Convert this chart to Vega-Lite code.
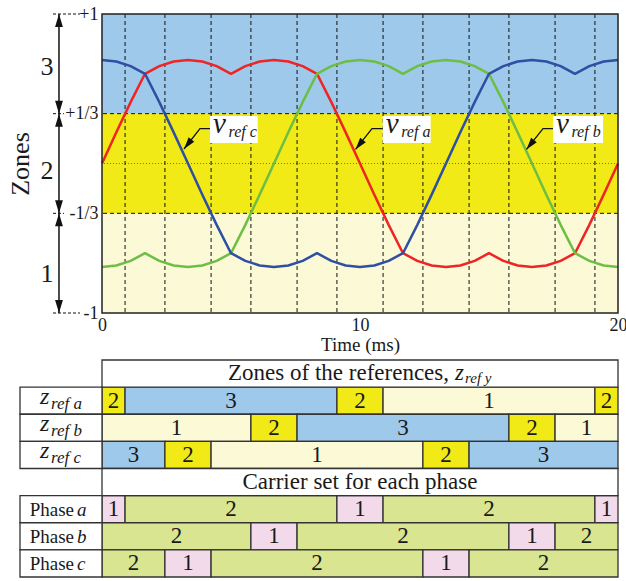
{
"$schema":"https://vega.github.io/schema/vega-lite/v6.json",
"background":"white",
"padding":{"left":7,"top":5,"right":0,"bottom":0},
"bounds":"flush",
"spacing":47,
"resolve":{"scale":{"fill":"independent","stroke":"independent","color":"independent"}},
"config":{"font":"Liberation Serif","view":{"stroke":null},"text":{"color":"#1a1a1a","font":"Liberation Serif"},"axis":{"labelFont":"Liberation Serif","titleFont":"Liberation Serif"}},
"datasets":{
"curves":[
{"t":0,"a":0,"b":-0.6928,"c":0.6928},
{"t":0.5556,"a":0.2084,"b":-0.6823,"c":0.6823},
{"t":1.1111,"a":0.4104,"b":-0.651,"c":0.651},
{"t":1.6667,"a":0.6,"b":-0.6,"c":0.6},
{"t":2.2222,"a":0.651,"b":-0.651,"c":0.4104},
{"t":2.7778,"a":0.6823,"b":-0.6823,"c":0.2084},
{"t":3.3333,"a":0.6928,"b":-0.6928,"c":0},
{"t":3.8889,"a":0.6823,"b":-0.6823,"c":-0.2084},
{"t":4.4444,"a":0.651,"b":-0.651,"c":-0.4104},
{"t":5,"a":0.6,"b":-0.6,"c":-0.6},
{"t":5.5556,"a":0.651,"b":-0.4104,"c":-0.651},
{"t":6.1111,"a":0.6823,"b":-0.2084,"c":-0.6823},
{"t":6.6667,"a":0.6928,"b":0,"c":-0.6928},
{"t":7.2222,"a":0.6823,"b":0.2084,"c":-0.6823},
{"t":7.7778,"a":0.651,"b":0.4104,"c":-0.651},
{"t":8.3333,"a":0.6,"b":0.6,"c":-0.6},
{"t":8.8889,"a":0.4104,"b":0.651,"c":-0.651},
{"t":9.4444,"a":0.2084,"b":0.6823,"c":-0.6823},
{"t":10,"a":0,"b":0.6928,"c":-0.6928},
{"t":10.5556,"a":-0.2084,"b":0.6823,"c":-0.6823},
{"t":11.1111,"a":-0.4104,"b":0.651,"c":-0.651},
{"t":11.6667,"a":-0.6,"b":0.6,"c":-0.6},
{"t":12.2222,"a":-0.651,"b":0.651,"c":-0.4104},
{"t":12.7778,"a":-0.6823,"b":0.6823,"c":-0.2084},
{"t":13.3333,"a":-0.6928,"b":0.6928,"c":0},
{"t":13.8889,"a":-0.6823,"b":0.6823,"c":0.2084},
{"t":14.4444,"a":-0.651,"b":0.651,"c":0.4104},
{"t":15,"a":-0.6,"b":0.6,"c":0.6},
{"t":15.5556,"a":-0.651,"b":0.4104,"c":0.651},
{"t":16.1111,"a":-0.6823,"b":0.2084,"c":0.6823},
{"t":16.6667,"a":-0.6928,"b":0,"c":0.6928},
{"t":17.2222,"a":-0.6823,"b":-0.2084,"c":0.6823},
{"t":17.7778,"a":-0.651,"b":-0.4104,"c":0.651},
{"t":18.3333,"a":-0.6,"b":-0.6,"c":0.6},
{"t":18.8889,"a":-0.4104,"b":-0.651,"c":0.651},
{"t":19.4444,"a":-0.2084,"b":-0.6823,"c":0.6823},
{"t":20,"a":0,"b":-0.6928,"c":0.6928}
],
"cross":[{"t":0.894},{"t":2.439},{"t":4.228},{"t":5.772},{"t":7.561},{"t":9.106},{"t":10.894},{"t":12.439},{"t":14.228},{"t":15.772},{"t":17.561},{"t":19.106}],
"zones":[{"v1":-1,"v2":-0.3333,"z":"1"},{"v1":-0.3333,"v2":0.3333,"z":"2"},{"v1":0.3333,"v2":1,"z":"3"}],
"ann":[
{"ref":"c","sub":"ref c","t1":4.186,"t2":6.035,"v1":0.318,"v2":0.137},
{"ref":"a","sub":"ref a","t1":10.88,"t2":12.74,"v1":0.318,"v2":0.137},
{"ref":"b","sub":"ref b","t1":17.48,"t2":19.42,"v1":0.318,"v2":0.137}
],
"arrows":[
{"ref":"c","k":1,"t":4.186,"v":0.233},{"ref":"c","k":2,"t":3.798,"v":0.233},{"ref":"c","k":3,"t":3.178,"v":0.097},
{"ref":"a","k":1,"t":10.88,"v":0.233},{"ref":"a","k":2,"t":10.465,"v":0.233},{"ref":"a","k":3,"t":9.826,"v":0.094},
{"ref":"b","k":1,"t":17.48,"v":0.233},{"ref":"b","k":2,"t":17.093,"v":0.233},{"ref":"b","k":3,"t":16.453,"v":0.094}
],
"cells":[
{"row":"za","t1":0,"t2":0.894,"tm":0.447,"val":"2","kind":"z2"},
{"row":"za","t1":0.894,"t2":9.106,"tm":5,"val":"3","kind":"z3"},
{"row":"za","t1":9.106,"t2":10.894,"tm":10,"val":"2","kind":"z2"},
{"row":"za","t1":10.894,"t2":19.106,"tm":15,"val":"1","kind":"z1"},
{"row":"za","t1":19.106,"t2":20,"tm":19.553,"val":"2","kind":"z2"},
{"row":"zb","t1":0,"t2":5.772,"tm":2.886,"val":"1","kind":"z1"},
{"row":"zb","t1":5.772,"t2":7.561,"tm":6.667,"val":"2","kind":"z2"},
{"row":"zb","t1":7.561,"t2":15.772,"tm":11.667,"val":"3","kind":"z3"},
{"row":"zb","t1":15.772,"t2":17.561,"tm":16.667,"val":"2","kind":"z2"},
{"row":"zb","t1":17.561,"t2":20,"tm":18.78,"val":"1","kind":"z1"},
{"row":"zc","t1":0,"t2":2.439,"tm":1.22,"val":"3","kind":"z3"},
{"row":"zc","t1":2.439,"t2":4.228,"tm":3.333,"val":"2","kind":"z2"},
{"row":"zc","t1":4.228,"t2":12.439,"tm":8.333,"val":"1","kind":"z1"},
{"row":"zc","t1":12.439,"t2":14.228,"tm":13.333,"val":"2","kind":"z2"},
{"row":"zc","t1":14.228,"t2":20,"tm":17.114,"val":"3","kind":"z3"},
{"row":"pa","t1":0,"t2":0.894,"tm":0.447,"val":"1","kind":"p1"},
{"row":"pa","t1":0.894,"t2":9.106,"tm":5,"val":"2","kind":"p2"},
{"row":"pa","t1":9.106,"t2":10.894,"tm":10,"val":"1","kind":"p1"},
{"row":"pa","t1":10.894,"t2":19.106,"tm":15,"val":"2","kind":"p2"},
{"row":"pa","t1":19.106,"t2":20,"tm":19.553,"val":"1","kind":"p1"},
{"row":"pb","t1":0,"t2":5.772,"tm":2.886,"val":"2","kind":"p2"},
{"row":"pb","t1":5.772,"t2":7.561,"tm":6.667,"val":"1","kind":"p1"},
{"row":"pb","t1":7.561,"t2":15.772,"tm":11.667,"val":"2","kind":"p2"},
{"row":"pb","t1":15.772,"t2":17.561,"tm":16.667,"val":"1","kind":"p1"},
{"row":"pb","t1":17.561,"t2":20,"tm":18.78,"val":"2","kind":"p2"},
{"row":"pc","t1":0,"t2":2.439,"tm":1.22,"val":"2","kind":"p2"},
{"row":"pc","t1":2.439,"t2":4.228,"tm":3.333,"val":"1","kind":"p1"},
{"row":"pc","t1":4.228,"t2":12.439,"tm":8.333,"val":"2","kind":"p2"},
{"row":"pc","t1":12.439,"t2":14.228,"tm":13.333,"val":"1","kind":"p1"},
{"row":"pc","t1":14.228,"t2":20,"tm":17.114,"val":"2","kind":"p2"}
]
},
"vconcat":[
{"width":516,"height":299,
"layer":[
{"data":{"name":"zones"},"mark":{"type":"rect"},
"encoding":{
"x":{"datum":0,"type":"quantitative","scale":{"domain":[0,20],"nice":false,"zero":false}},
"x2":{"datum":20},
"y":{"field":"v1","type":"quantitative","scale":{"domain":[-1,1],"nice":false,"zero":false}},
"y2":{"field":"v2"},
"fill":{"field":"z","type":"nominal","scale":{"domain":["1","2","3"],"range":["#FBF9D6","#F2EA16","#9FC9EA"]},"legend":null}}},
{"data":{"values":[{"v":0.3333},{"v":-0.3333}]},"mark":{"type":"rule","color":"#111","strokeWidth":1,"strokeDash":[4,3]},
"encoding":{"y":{"field":"v","type":"quantitative"}}},
{"data":{"values":[{"v":0}]},"mark":{"type":"rule","color":"#7f7a10","strokeWidth":1,"strokeDash":[1,2]},
"encoding":{"y":{"field":"v","type":"quantitative"}}},
{"data":{"name":"cross"},"mark":{"type":"rule","color":"#111","strokeWidth":1,"strokeDash":[4,3]},
"encoding":{"x":{"field":"t","type":"quantitative"}}},
{"data":{"name":"curves"},"transform":[{"fold":["a","b","c"],"as":["ph","v"]}],
"mark":{"type":"line","strokeWidth":2.5,"strokeJoin":"round"},
"encoding":{
"x":{"field":"t","type":"quantitative","scale":{"domain":[0,20],"nice":false,"zero":false},
"axis":{"values":[0,10,20],"ticks":false,"domain":false,"grid":false,"labelFont":"Liberation Serif","labelFontSize":18,"labelPadding":3,"labelFlush":false,"labelColor":"#1a1a1a","title":"Time (ms)","titleFont":"Liberation Serif","titleFontSize":19,"titleFontWeight":"normal","titleColor":"#1a1a1a","titleBaseline":"alphabetic","titleY":37}},
"y":{"field":"v","type":"quantitative","scale":{"domain":[-1,1],"nice":false,"zero":false},
"axis":{"values":[-1,-0.3333,0.3333,1],"labelExpr":"datum.value > 0.9 ? '+1' : datum.value > 0 ? '+1/3' : datum.value > -0.9 ? '-1/3' : '-1'","ticks":false,"domain":false,"grid":false,"labelFont":"Liberation Serif","labelFontSize":18,"labelPadding":4,"labelColor":"#1a1a1a","title":"Zones","titleFont":"Liberation Serif","titleFontSize":26,"titleFontWeight":"normal","titleColor":"#1a1a1a","titleX":-82,"titleY":149.5,"titleAngle":270,"titleAlign":"center","titleBaseline":"middle"}},
"stroke":{"field":"ph","type":"nominal","scale":{"domain":["a","b","c"],"range":["#EE2524","#6DBE45","#2E4FA3"]},"legend":null}}},
{"data":{"name":"ann"},"mark":{"type":"rect","fill":"white"},
"encoding":{"x":{"field":"t1","type":"quantitative"},"x2":{"field":"t2"},"y":{"field":"v1","type":"quantitative"},"y2":{"field":"v2"}}},
{"data":{"name":"arrows"},"mark":{"type":"line","color":"#111","strokeWidth":1.3},
"encoding":{"x":{"field":"t","type":"quantitative"},"y":{"field":"v","type":"quantitative"},"detail":{"field":"ref"},"order":{"field":"k"}}},
{"data":{"name":"arrows"},"transform":[{"filter":"datum.k == 3"}],
"mark":{"type":"point","filled":true,"color":"#111","opacity":1,"shape":"M-0.3,1L0.3,1L0,0Z","size":576,"angle":218.5,"strokeWidth":0},
"encoding":{"x":{"field":"t","type":"quantitative"},"y":{"field":"v","type":"quantitative"}}},
{"data":{"name":"ann"},"mark":{"type":"text","text":"v","font":"Liberation Serif","fontSize":29,"fontStyle":"italic","align":"left","baseline":"alphabetic","dx":3,"dy":-10},
"encoding":{"x":{"field":"t1","type":"quantitative"},"y":{"field":"v2","type":"quantitative"}}},
{"data":{"name":"ann"},"mark":{"type":"text","font":"Liberation Serif","fontSize":16,"fontStyle":"italic","align":"left","baseline":"alphabetic","dx":18.5,"dy":-6.5},
"encoding":{"x":{"field":"t1","type":"quantitative"},"y":{"field":"v2","type":"quantitative"},"text":{"field":"sub"}}},
{"data":{"values":[{"v":1}]},"mark":{"type":"rect","fill":"transparent","stroke":"#222","strokeWidth":1.5},
"encoding":{"x":{"datum":0,"type":"quantitative"},"x2":{"datum":20},"y":{"datum":-1,"type":"quantitative"},"y2":{"datum":1}}},
{"data":{"values":[{"v":1},{"v":-1}]},"mark":{"type":"rule","color":"#111","strokeWidth":1,"strokeDash":[3,2]},
"encoding":{"x":{"datum":-1.899,"type":"quantitative"},"x2":{"datum":-0.853},"y":{"field":"v","type":"quantitative"}}},
{"data":{"values":[{"v":0.3333},{"v":-0.3333}]},"mark":{"type":"rule","color":"#111","strokeWidth":1,"strokeDash":[3,2]},
"encoding":{"x":{"datum":-1.899,"type":"quantitative"},"x2":{"datum":-1.473},"y":{"field":"v","type":"quantitative"}}},
{"data":{"values":[{"v":1}]},"mark":{"type":"rule","color":"#111","strokeWidth":1.5},
"encoding":{"x":{"datum":-1.667,"type":"quantitative"},"y":{"datum":1,"type":"quantitative"},"y2":{"datum":-1}}},
{"data":{"values":[{"v":1},{"v":0.3333},{"v":-0.3333}]},
"mark":{"type":"point","filled":true,"color":"#111","opacity":1,"shape":"M-0.3,1L0.3,1L0,0Z","size":676,"strokeWidth":0},
"encoding":{"x":{"datum":-1.667,"type":"quantitative"},"y":{"field":"v","type":"quantitative"}}},
{"data":{"values":[{"v":0.3333},{"v":-0.3333},{"v":-1}]},
"mark":{"type":"point","filled":true,"color":"#111","opacity":1,"shape":"M-0.3,-1L0.3,-1L0,0Z","size":676,"strokeWidth":0},
"encoding":{"x":{"datum":-1.667,"type":"quantitative"},"y":{"field":"v","type":"quantitative"}}},
{"data":{"values":[{"v":0.645,"l":"3"},{"v":-0.05,"l":"2"},{"v":-0.74,"l":"1"}]},
"mark":{"type":"text","font":"Liberation Serif","fontSize":26,"align":"center","baseline":"middle"},
"encoding":{"x":{"datum":-2.132,"type":"quantitative"},"y":{"field":"v","type":"quantitative"},"text":{"field":"l"}}}
]},
{"width":516,"height":217,
"layer":[
{"data":{"name":"cells"},"mark":{"type":"rect","stroke":"#333","strokeWidth":1.3},
"encoding":{
"x":{"field":"t1","type":"quantitative","scale":{"domain":[0,20],"nice":false,"zero":false},"axis":null},
"x2":{"field":"t2"},
"y":{"field":"row","type":"nominal","scale":{"domain":["hdr1","za","zb","zc","hdr2","pa","pb","pc"],"paddingInner":0,"paddingOuter":0},"axis":null},
"fill":{"field":"kind","type":"nominal","scale":{"domain":["z1","z2","z3","p1","p2"],"range":["#FBF9D6","#F2EA16","#9FC9EA","#F3DAEA","#D9E590"]},"legend":null}}},
{"data":{"values":[{"row":"hdr1"},{"row":"hdr2"}]},"mark":{"type":"rect","fill":"white","stroke":"#333","strokeWidth":1.3},
"encoding":{"x":{"datum":0,"type":"quantitative","axis":null},"x2":{"datum":20},"y":{"field":"row","type":"nominal","axis":null}}},
{"data":{"values":[{"row":"za"},{"row":"zb"},{"row":"zc"},{"row":"pa"},{"row":"pb"},{"row":"pc"}]},"mark":{"type":"rect","fill":"white","stroke":"#333","strokeWidth":1.3},
"encoding":{"x":{"datum":-3.178,"type":"quantitative","axis":null},"x2":{"datum":0},"y":{"field":"row","type":"nominal","axis":null}}},
{"data":{"name":"cells"},"mark":{"type":"text","font":"Liberation Serif","fontSize":23,"align":"center","baseline":"middle"},
"encoding":{"x":{"field":"tm","type":"quantitative","axis":null},"y":{"field":"row","type":"nominal","axis":null},"text":{"field":"val"}}},
{"data":{"values":[{"row":"za","s":"ref a"},{"row":"zb","s":"ref b"},{"row":"zc","s":"ref c"}]},
"mark":{"type":"text","text":"z","font":"Liberation Serif","fontSize":24,"fontStyle":"italic","align":"left","baseline":"alphabetic","dy":3},
"encoding":{"x":{"datum":-2.403,"type":"quantitative","axis":null},"y":{"field":"row","type":"nominal","axis":null}}},
{"data":{"values":[{"row":"za","s":"ref a"},{"row":"zb","s":"ref b"},{"row":"zc","s":"ref c"}]},
"mark":{"type":"text","font":"Liberation Serif","fontSize":17,"fontStyle":"italic","align":"left","baseline":"alphabetic","dy":8},
"encoding":{"x":{"datum":-1.977,"type":"quantitative","axis":null},"y":{"field":"row","type":"nominal","axis":null},"text":{"field":"s"}}},
{"data":{"values":[{"row":"pa","s":"a"},{"row":"pb","s":"b"},{"row":"pc","s":"c"}]},
"mark":{"type":"text","text":"Phase","font":"Liberation Serif","fontSize":19,"align":"right","baseline":"alphabetic","dy":6.5},
"encoding":{"x":{"datum":-1.085,"type":"quantitative","axis":null},"y":{"field":"row","type":"nominal","axis":null}}},
{"data":{"values":[{"row":"pa","s":"a"},{"row":"pb","s":"b"},{"row":"pc","s":"c"}]},
"mark":{"type":"text","font":"Liberation Serif","fontSize":19,"fontStyle":"italic","align":"left","baseline":"alphabetic","dy":6.5},
"encoding":{"x":{"datum":-0.97,"type":"quantitative","axis":null},"y":{"field":"row","type":"nominal","axis":null},"text":{"field":"s"}}},
{"data":{"values":[{"row":"hdr1"}]},
"mark":{"type":"text","text":"Zones of the references,","font":"Liberation Serif","fontSize":23,"align":"right","baseline":"alphabetic","dy":6.5},
"encoding":{"x":{"datum":13.45,"type":"quantitative","axis":null},"y":{"field":"row","type":"nominal","axis":null}}},
{"data":{"values":[{"row":"hdr1"}]},
"mark":{"type":"text","text":"z","font":"Liberation Serif","fontSize":23,"fontStyle":"italic","align":"left","baseline":"alphabetic","dy":6.5},
"encoding":{"x":{"datum":13.68,"type":"quantitative","axis":null},"y":{"field":"row","type":"nominal","axis":null}}},
{"data":{"values":[{"row":"hdr1"}]},
"mark":{"type":"text","text":"ref y","font":"Liberation Serif","fontSize":15,"fontStyle":"italic","align":"left","baseline":"alphabetic","dy":9.5},
"encoding":{"x":{"datum":14.07,"type":"quantitative","axis":null},"y":{"field":"row","type":"nominal","axis":null}}},
{"data":{"values":[{"row":"hdr2"}]},
"mark":{"type":"text","text":"Carrier set for each phase","font":"Liberation Serif","fontSize":23,"align":"center","baseline":"alphabetic","dy":6.5},
"encoding":{"x":{"datum":10,"type":"quantitative","axis":null},"y":{"field":"row","type":"nominal","axis":null}}}
]}
]
}
